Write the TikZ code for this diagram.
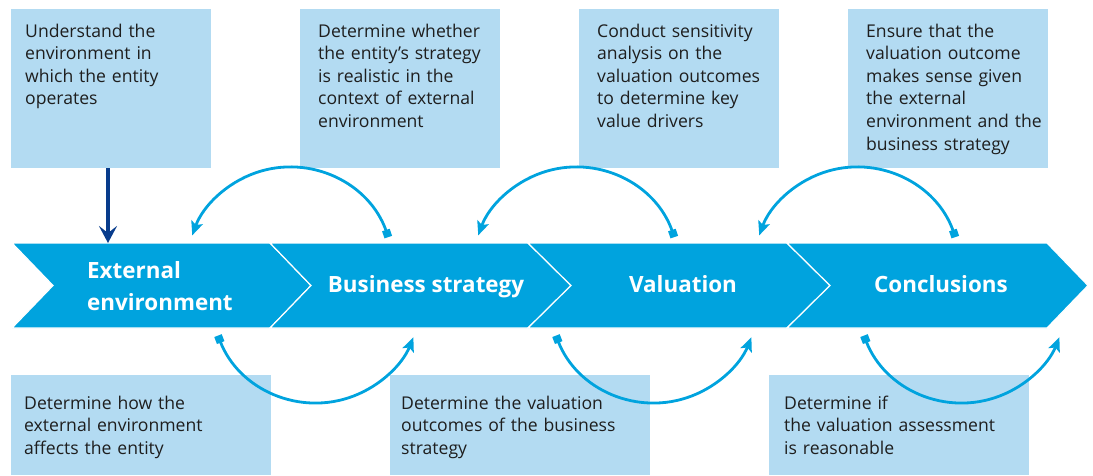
\documentclass[tikz,border=0pt]{standalone}
\usepackage{fontspec}
\setmainfont{Open Sans}
\usetikzlibrary{arrows.meta}
\definecolor{boxblue}{HTML}{B3DBF2}
\definecolor{chevblue}{HTML}{00A3DE}
\definecolor{navyblue}{HTML}{083C8C}
\definecolor{txtcol}{HTML}{1E1E1E}
\begin{document}
\begin{tikzpicture}[x=1pt,y=-1pt,
  infobox/.style={fill=boxblue, draw=none, inner sep=0pt, anchor=north west},
  infotext/.style={anchor=base west, inner sep=0pt, text width=250pt, align=left, text=txtcol, font=\fontsize{17.6}{22.6}\selectfont},
  chev/.style={fill=chevblue, draw=white, line width=1.2pt, line join=miter},
  chevlabel/.style={text=white, inner sep=0pt, font=\fontsize{22.4}{32}\bfseries\selectfont},
  cyclearrow/.style={draw=chevblue, line width=2.8pt, {Square[length=7.5pt,width=8pt]}-{Stealth[length=14pt,width=12pt,inset=3pt]}},
]
\useasboundingbox (0,0) rectangle (1093,475);

% chevrons
\draw[chev] (12,243) -- (270,243) -- (311,285.5) -- (270,328) -- (12,328) -- (53,285.5) -- cycle;
\draw[chev] (270,243) -- (528,243) -- (571,285.5) -- (528,328) -- (270,328) -- (311,285.5) -- cycle;
\draw[chev] (528,243) -- (787,243) -- (830,285.5) -- (787,328) -- (528,328) -- (571,285.5) -- cycle;
\draw[chev] (787,243) -- (1047,243) -- (1088,285.5) -- (1047,328) -- (787,328) -- (830,285.5) -- cycle;

% chevron labels
\node[chevlabel, anchor=base west, text width=200pt, align=left] (ee) at (87,278) {External\\environment};
\node[chevlabel, anchor=base] (bs) at (426,292) {Business strategy};
\node[chevlabel, anchor=base] (va) at (683,292) {Valuation};
\node[chevlabel, anchor=base] (co) at (941,292) {Conclusions};

% top boxes
\node[infobox, minimum width=200pt, minimum height=159pt] (tb1) at (11,9) {};
\node[infobox, minimum width=200pt, minimum height=159pt] (tb2) at (300,9) {};
\node[infobox, minimum width=200pt, minimum height=159pt] (tb3) at (579,9) {};
\node[infobox, minimum width=200pt, minimum height=159pt] (tb4) at (848,9) {};
\node[infotext] (tt1) at (25,37) {Understand the\\environment in\\which the entity\\operates};
\node[infotext] (tt2) at (318,37) {Determine whether\\the entity’s strategy\\is realistic in the\\context of external\\environment};
\node[infotext] (tt3) at (597,37) {Conduct sensitivity\\analysis on the\\valuation outcomes\\to determine key\\value drivers};
\node[infotext] (tt4) at (866,37) {Ensure that the\\valuation outcome\\makes sense given\\the external\\environment and the\\business strategy};

% bottom boxes
\node[infobox, minimum width=260pt, minimum height=100pt] (bb1) at (11,375) {};
\node[infobox, minimum width=260pt, minimum height=100pt] (bb2) at (390,375) {};
\node[infobox, minimum width=260pt, minimum height=100pt] (bb3) at (769,375) {};
\node[infotext] (bt1) at (24,409) {Determine how the\\external environment\\affects the entity};
\node[infotext] (bt2) at (401,409) {Determine the valuation\\outcomes of the business\\strategy};
\node[infotext] (bt3) at (784,409) {Determine if\\the valuation assessment\\is reasonable};

% down arrow
\coordinate (dtip) at (108,243);
\draw[navyblue, line width=3.6pt, -{Stealth[length=17pt,width=18pt,inset=7pt]}] (tb1.south -| dtip) -- (dtip);

% top cycle arrows
\coordinate (ta1) at (388.3,237.1);
\coordinate (ta2) at (674.3,237.1);
\coordinate (ta3) at (955.3,237.1);
\draw[cyclearrow] (ta1) arc[start angle=-19, end angle=-160, radius=104];
\draw[cyclearrow] (ta2) arc[start angle=-19, end angle=-160, radius=104];
\draw[cyclearrow] (ta3) arc[start angle=-19, end angle=-160, radius=104];

% bottom cycle arrows
\coordinate (ba1) at (218,335.6);
\coordinate (ba2) at (556,335.6);
\coordinate (ba3) at (864,335.6);
\draw[cyclearrow] (ba1) arc[start angle=159, end angle=22, radius=105];
\draw[cyclearrow] (ba2) arc[start angle=159, end angle=22, radius=105];
\draw[cyclearrow] (ba3) arc[start angle=159, end angle=22, radius=105];
\end{tikzpicture}
\end{document}
